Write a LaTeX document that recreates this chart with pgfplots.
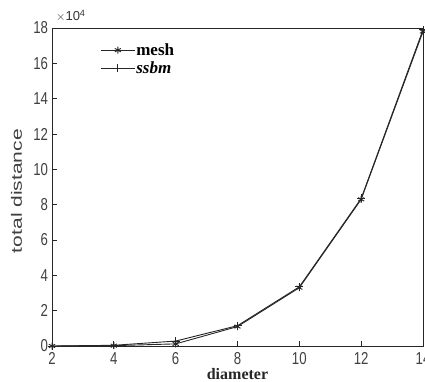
\documentclass[border=0pt]{standalone}
\usepackage{pgfplots}
\pgfplotsset{compat=1.18}
\usepackage{fontspec}
\setmainfont{Liberation Serif}
\setsansfont{Liberation Sans}
\begin{document}
\begin{tikzpicture}
\begin{axis}[
  scale only axis,
  width=371pt, height=318pt,
  xmin=2, xmax=14, ymin=0, ymax=18,
  xtick={2,4,...,14}, ytick={0,2,...,18},
  tick align=inside,
  xtick pos=bottom, ytick pos=left,
  major tick length=5pt,
  tick style={black!85, line width=0.7pt},
  axis line style={black!85, line width=0.8pt},
  /pgf/number format/assume math mode=true,
  ticklabel style={font=\sffamily\fontsize{15}{15}\selectfont, text=black!75, yscale=1.15, xscale=0.88},
  xticklabel style={yshift=-2pt},
  yticklabel style={xshift=-1pt},
  xlabel={\textbf{diameter}},
  ylabel={\scalebox{1.4}[1]{total distance}},
  xlabel style={font=\fontsize{16}{16}\selectfont, text=black!85, at={(axis description cs:0.5,0)}, anchor=base, yshift=-33pt},
  ylabel style={font=\sffamily\fontsize{15}{15}\selectfont, text=black!75, at={([xshift=-30pt]axis description cs:0,0.487)}, anchor=base},
  legend style={at={(rel axis cs:0.13,0.955)}, anchor=north west, draw=none, fill=none,
    font=\fontsize{17}{17}\selectfont, row sep=3pt, inner sep=0pt,
    nodes={inner sep=1pt}},
  legend cell align=left,
  legend image code/.code={\draw[mark repeat=2,mark phase=2,#1] plot coordinates {(0pt,0pt) (17pt,0pt) (34pt,0pt)};},
]
\addplot[black!85, line width=0.9pt, mark=asterisk, mark size=3.5pt] coordinates {
  (2,0.0) (4,0.02) (6,0.12) (8,1.10) (10,3.30) (12,8.30) (14,17.8)};
\addlegendentry{\textbf{mesh}}
\addplot[black!85, line width=0.9pt, mark=+, mark size=4pt] coordinates {
  (2,0.0) (4,0.04) (6,0.28) (8,1.15) (10,3.35) (12,8.35) (14,17.9)};
\addlegendentry{\textbf{\textit{ssbm}}}
\end{axis}
\node[anchor=south west, font=\sffamily\fontsize{13}{13}\selectfont, text=black!80, inner sep=0pt]
  at ([xshift=4pt, yshift=6pt]current axis.north west) {$\times$10\textsuperscript{4}};
\pgfresetboundingbox
\path[use as bounding box] (-52pt,-35pt) rectangle (373pt,346pt);
\end{tikzpicture}
\end{document}
